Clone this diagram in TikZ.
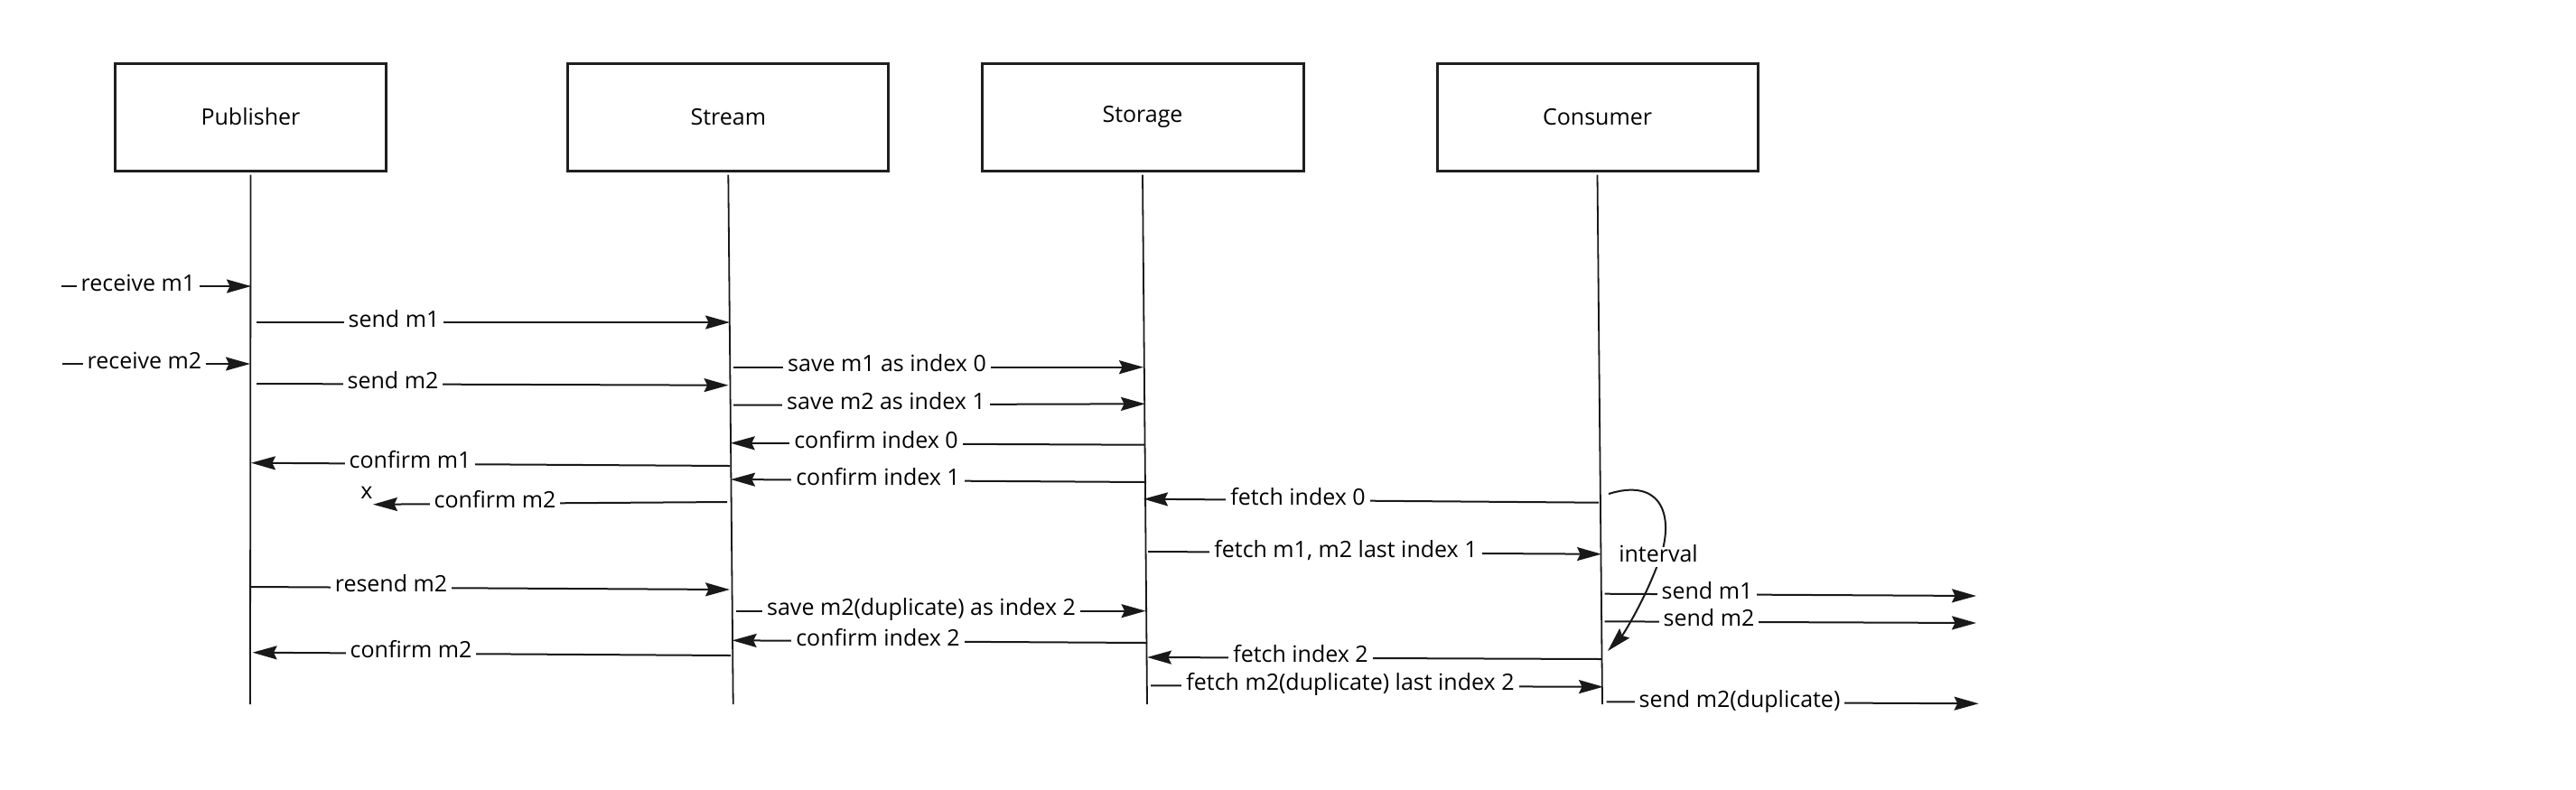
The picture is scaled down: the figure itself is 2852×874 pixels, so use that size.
\documentclass[tikz,border=0pt]{standalone}
\usepackage{fontspec}
\setmainfont{Open Sans}
\usetikzlibrary{arrows.meta,calc}
\newcommand\msgarrow[7]{%
  \coordinate (#1s) at (#2,#3); \coordinate (#1e) at (#4,#5);
  \draw[msg] (#1s) -- (#1e);
  \node[lbl] (#1l) at ($(#1s)!{(#6-(#2))/((#4)-(#2))}!(#1e)$) {#7};}
\begin{document}
\begin{tikzpicture}[x=0.5pt,y=-0.5pt,
  txt/.style={font=\fontsize{12.5pt}{15pt}\selectfont},
  box/.style={txt, draw=black!88, line width=1.5pt, minimum height=59.5pt, inner sep=0pt},
  life/.style={line width=0.9pt, draw=black!90},
  msg/.style={line width=1pt, draw=black!90, -{Stealth[length=13.5pt,width=7.5pt,inset=1.8pt]}},
  lbl/.style={txt, fill=white, inner xsep=2.5pt, inner ysep=1pt, text height=0.72em, text depth=0.22em}]
\useasboundingbox (0,0) rectangle (2852,874);
% participants
\node[box, minimum width=150pt] (pub) at (277.5,129.5) {Publisher};
\node[box, minimum width=177.5pt] (str) at (806.3,129.5) {Stream};
\node[box, minimum width=178pt] (sto) at (1265,129.5) {Storage};
\node[box, minimum width=177.5pt] (con) at (1768.5,129.5) {Consumer};
% lifelines
\coordinate (pubB) at (277,780);
\coordinate (strB) at (811.7,780);
\coordinate (stoB) at (1270,780);
\coordinate (conB) at (1774,780);
\draw[life] (pub.south) ++(0,3) -- (pubB);
\draw[life] (str.south) ++(0,3) -- (strB);
\draw[life] (sto.south) ++(0,3) -- (stoB);
\draw[life] (con.south) ++(0,3) -- (conB);
% messages
\msgarrow{a}{68}{317}{278}{317}{153}{receive m1}
\msgarrow{b}{284}{357}{808}{357}{436}{send m1}
\msgarrow{c}{69}{403}{277}{403}{160}{receive m2}
\msgarrow{d}{284}{425}{806.5}{426.7}{435}{send m2}
\msgarrow{e}{812}{406.7}{1266}{406.7}{982}{save m1 as index 0}
\msgarrow{f}{812}{448.7}{1268}{447.3}{981}{save m2 as index 1}
\msgarrow{g}{1268}{492.7}{808.7}{490.7}{970}{confirm index 0}
\msgarrow{h}{808}{516}{278}{512.7}{454}{confirm m1}
\msgarrow{i}{1269}{534}{809}{531}{972}{confirm index 1}
\msgarrow{j}{805}{556}{413}{558.7}{548}{confirm m2}
\node[txt] (lost) at (406,546) {x};
\msgarrow{k}{1770}{556.7}{1266}{552.7}{1437}{fetch index 0}
\msgarrow{l}{1271}{611}{1773}{613.7}{1490}{fetch m1, m2 last index 1}
\msgarrow{m}{278}{650}{808}{653}{433}{resend m2}
\msgarrow{n}{815}{676.7}{1268.5}{676.7}{1020}{save m2(duplicate) as index 2}
\msgarrow{o}{1270}{712}{810.6}{709.3}{972}{confirm index 2}
\msgarrow{p}{809}{726}{279.6}{722.7}{455}{confirm m2}
\msgarrow{q}{1773}{730}{1270}{728}{1440}{fetch index 2}
\msgarrow{r}{1274}{759.3}{1775}{760.7}{1495}{fetch m2(duplicate) last index 2}
\msgarrow{s}{1776.5}{657.7}{2188}{660}{1890}{send m1}
\msgarrow{t}{1776.5}{688.3}{2188}{690}{1892}{send m2}
\msgarrow{u}{1778.5}{777.3}{2190.6}{779.3}{1926}{send m2(duplicate)}
% interval
\coordinate (ivs) at (1781,547);
\coordinate (ive) at (1780,721);
\draw[msg] (ivs) .. controls (1835,530) and (1853,565) .. (1840,612) .. controls (1824,660) and (1797,703) .. (ive);
\node[lbl] (ivl) at (1836,617) {interval};
\end{tikzpicture}
\end{document}
